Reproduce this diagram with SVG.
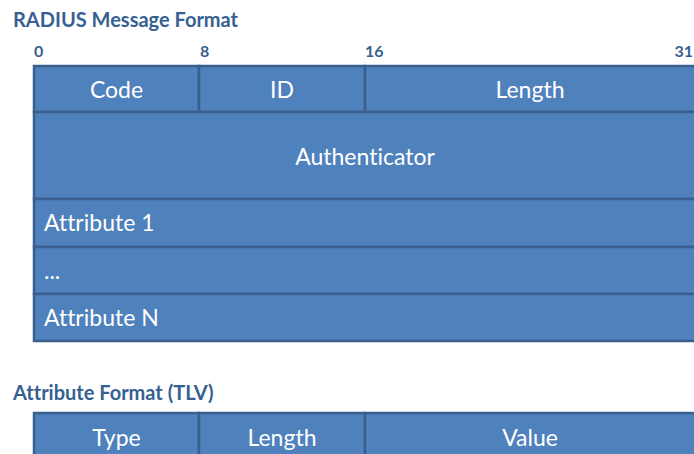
<svg xmlns="http://www.w3.org/2000/svg" width="694" height="454" viewBox="0 0 694 454">
  <style>
    text { font-variant-ligatures: none; }
    .title { font-family: Lato, "Open Sans", sans-serif; font-weight: bold; font-size: 20px; fill: #376092; }
    .bit { font-family: Lato, "Open Sans", sans-serif; font-weight: bold; font-size: 16px; fill: #376092; }
    .cell { fill: #4F81BD; stroke: #3A5F8E; stroke-width: 2.5; }
    .label { font-family: Lato, "Open Sans", sans-serif; font-size: 23px; fill: #FFFFFF; }
    .mid { text-anchor: middle; }
  </style>
  <rect width="694" height="454" fill="#FFFFFF"/>

  <!-- RADIUS message layout -->
  <text class="title" x="13" y="27">RADIUS Message Format</text>
  <g id="bit-scale">
    <text class="bit" x="34" y="57">0</text>
    <text class="bit" x="200" y="57">8</text>
    <text class="bit" x="365" y="57">16</text>
    <text class="bit" x="693" y="57" text-anchor="end">31</text>
  </g>

  <g id="code">
    <rect class="cell" x="34" y="66" width="165" height="46"/>
    <text class="label mid" x="116.5" y="98">Code</text>
  </g>
  <g id="id">
    <rect class="cell" x="199" y="66" width="166" height="46"/>
    <text class="label mid" x="282" y="98">ID</text>
  </g>
  <g id="length">
    <rect class="cell" x="365" y="66" width="340" height="46"/>
    <text class="label mid" x="530" y="98">Length</text>
  </g>
  <g id="authenticator">
    <rect class="cell" x="34" y="112" width="671" height="87"/>
    <text class="label mid" x="365" y="165">Authenticator</text>
  </g>
  <g id="attribute-1">
    <rect class="cell" x="34" y="199" width="671" height="48"/>
    <text class="label" x="44" y="231">Attribute 1</text>
  </g>
  <g id="attribute-more">
    <rect class="cell" x="34" y="247" width="671" height="47"/>
    <text class="label" x="44" y="279">...</text>
  </g>
  <g id="attribute-n">
    <rect class="cell" x="34" y="294" width="671" height="47"/>
    <text class="label" x="44" y="326">Attribute N</text>
  </g>

  <!-- TLV attribute layout -->
  <text class="title" x="13" y="400">Attribute Format (TLV)</text>
  <g id="type">
    <rect class="cell" x="34" y="413" width="165" height="50"/>
    <text class="label mid" x="116.5" y="446">Type</text>
  </g>
  <g id="tlv-length">
    <rect class="cell" x="199" y="413" width="166" height="50"/>
    <text class="label mid" x="282" y="446">Length</text>
  </g>
  <g id="value">
    <rect class="cell" x="365" y="413" width="340" height="50"/>
    <text class="label mid" x="530" y="446">Value</text>
  </g>
  <g id="connectors"/>
</svg>
